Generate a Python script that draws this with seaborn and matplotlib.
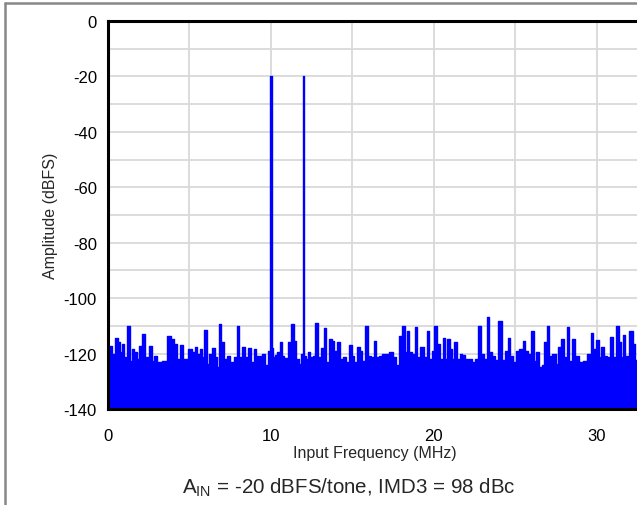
import matplotlib
matplotlib.use('Agg')
import matplotlib.pyplot as plt
from matplotlib.lines import Line2D
import seaborn as sns
import numpy as np
import pandas as pd

# spectrum envelope (MHz, dBFS)
freq_mhz = [
    0.00, 0.16, 0.37, 0.55, 0.67, 0.78, 0.90, 1.04, 1.29, 1.39, 1.51, 1.66, 1.84,
    2.00, 2.15, 2.39, 2.60, 2.76, 2.88, 3.11, 3.50, 3.76, 3.99, 4.13, 4.31, 4.50,
    4.74, 5.07, 5.21, 5.42, 5.56, 5.73, 5.83, 5.99, 6.16, 6.28, 6.50, 6.61, 6.71,
    6.87, 7.01, 7.20, 7.38, 7.61, 7.83, 7.95, 8.12, 8.32, 8.49, 8.69, 8.85, 9.02,
    9.18, 9.37, 9.57, 9.71, 9.91, 10.00, 10.09, 10.16, 10.31, 10.45, 10.61, 10.72, 10.92,
    11.19, 11.33, 11.47, 11.64, 11.82, 11.91, 12.00, 12.09, 12.21, 12.33, 12.49, 12.66, 12.80,
    12.94, 13.15, 13.31, 13.44, 13.64, 13.80, 13.97, 14.13, 14.29, 14.52, 14.68,
    14.91, 15.03, 15.17, 15.40, 15.52, 15.71, 15.85, 16.03, 16.22, 16.38, 16.54,
    16.73, 16.95, 17.14, 17.32, 17.61, 17.77, 17.93, 18.16, 18.26, 18.39, 18.55,
    18.73, 18.90, 19.04, 19.31, 19.49, 19.63, 19.80, 19.92, 20.12, 20.31, 20.47,
    20.63, 20.76, 20.90, 21.02, 21.17, 21.35, 21.53, 21.66, 21.82, 22.02, 22.23,
    22.39, 22.62, 22.82, 23.01, 23.13, 23.33, 23.48, 23.66, 23.85, 24.07, 24.25,
    24.46, 24.60, 24.77, 24.97, 25.09, 25.34, 25.54, 25.66, 25.85, 26.06, 26.20,
    26.36, 26.54, 26.71, 26.85, 26.97, 27.14, 27.38, 27.55, 27.69, 27.93, 28.08,
    28.20, 28.36, 28.57, 28.77, 29.06, 29.26, 29.53, 29.69, 29.82, 30.02, 30.18,
    30.35, 30.53, 30.70, 30.92, 31.06, 31.27, 31.43, 31.57, 31.68, 31.82, 32.09,
    32.29, 32.39, 32.60,
]
level_dbfs = [
    -118.0, -117.1, -120.1, -114.3, -115.9, -119.5, -116.5, -121.3, -109.9, -122.5, -118.3, -119.5, -121.9,
    -117.1, -112.9, -121.3, -117.1, -122.5, -120.7, -122.9, -122.5, -113.5, -114.7, -116.5, -121.9, -116.9,
    -121.8, -118.3, -119.5, -117.7, -120.1, -118.3, -121.3, -111.4, -123.7, -120.1, -118.0, -121.3, -124.9,
    -109.3, -115.7, -121.9, -120.7, -123.1, -121.1, -110.1, -121.3, -117.7, -121.3, -118.1, -123.1, -118.3,
    -120.7, -120.7, -120.1, -124.3, -118.9, -20.0, -118.0, -121.3, -120.4, -119.5, -115.7, -120.7, -121.6,
    -115.9, -109.5, -115.3, -121.9, -123.7, -120.0, -20.0, -121.0, -121.9, -119.5, -121.1, -120.7, -108.9,
    -121.3, -118.1, -110.7, -123.1, -114.7, -115.5, -118.9, -115.9, -121.9, -121.3, -123.1,
    -116.9, -120.7, -123.1, -117.7, -118.9, -122.5, -110.2, -120.7, -121.3, -115.5, -121.3,
    -120.7, -120.1, -120.1, -119.5, -121.3, -124.3, -113.5, -109.9, -119.5, -111.7, -119.5,
    -120.1, -110.5, -121.3, -117.5, -121.3, -112.0, -121.9, -118.9, -110.1, -116.5, -121.9,
    -114.3, -121.9, -114.7, -118.3, -121.9, -115.9, -121.9, -120.1, -120.4, -121.9, -121.9,
    -123.1, -121.9, -110.2, -120.1, -121.9, -106.9, -119.5, -120.7, -122.3, -108.4, -122.3,
    -118.9, -114.3, -120.7, -123.1, -118.9, -118.3, -115.5, -118.9, -120.1, -112.0, -122.5,
    -119.5, -124.9, -124.3, -115.9, -109.9, -120.7, -120.1, -123.7, -117.7, -114.7, -121.3,
    -110.5, -122.5, -114.9, -120.7, -123.1, -122.5, -120.1, -112.5, -118.3, -115.1, -121.3,
    -117.7, -120.7, -121.3, -113.9, -121.3, -110.1, -115.9, -121.3, -113.4, -120.7, -111.9,
    -116.7, -122.3, -122.0,
]

x_ticks = [0, 10, 20, 30]
y_ticks = [0, -20, -40, -60, -80, -100, -120, -140]

df = pd.DataFrame({'freq': freq_mhz, 'level': level_dbfs})

sns.set_style('white')
plt.rcParams['font.family'] = ['Liberation Sans', 'DejaVu Sans']
plt.rcParams['mathtext.fontset'] = 'custom'
plt.rcParams['mathtext.rm'] = 'Liberation Sans'
plt.rcParams['axes.unicode_minus'] = False

W, H = 637, 506
fig = plt.figure(figsize=(W / 100, H / 100), dpi=100)
# axes runs past the right edge of the picture, as in the reference
ax = fig.add_axes([108 / W, 96 / H, 534 / W, 388 / H])

blue = '#0000ff'
ax.fill_between(df['freq'], -140, df['level'], step='mid', color=blue, lw=0)
sns.lineplot(data=df, x='freq', y='level', ax=ax, color=blue, lw=1.0,
             drawstyle='steps-mid', estimator=None, sort=True)

ax.set_xlim(0, 32.768)
ax.set_ylim(-140, 0)
ax.set_xticks(x_ticks)
ax.set_yticks(y_ticks)
ax.set_xticks(np.arange(0, 33, 5), minor=True)
ax.set_yticks(np.arange(-140, 1, 10), minor=True)
ax.grid(True, which='both', color='#d9d9d9', lw=1.3)
ax.set_axisbelow(True)
ax.tick_params(axis='both', which='both', length=0, labelsize=12, colors='black')
ax.tick_params(axis='x', pad=14)
ax.tick_params(axis='y', pad=8)
for side in ['top', 'left', 'bottom']:
    ax.spines[side].set_color('black')
    ax.spines[side].set_linewidth(2.2)
ax.spines['right'].set_visible(False)

ax.set_xlabel('Input Frequency (MHz)', fontsize=11.5, labelpad=1)
ax.set_ylabel('Amplitude (dBFS)', fontsize=11.5, labelpad=4)

fig.text(349 / W, 1 - 488 / H, r'A$_{\mathrm{IN}}$ = -20 dBFS/tone, IMD3 = 98 dBc',
         ha='center', va='center', fontsize=14.8)

# outer grey frame (only top and left edges fall inside the picture)
fig.add_artist(Line2D([4.5 / W, 1], [1 - 4 / H, 1 - 4 / H], color='#888888', lw=1.8,
                      transform=fig.transFigure))
fig.add_artist(Line2D([4.5 / W, 4.5 / W], [0, 1 - 4 / H], color='#888888', lw=1.8,
                      transform=fig.transFigure))

fig.savefig('out.png', dpi=100)
